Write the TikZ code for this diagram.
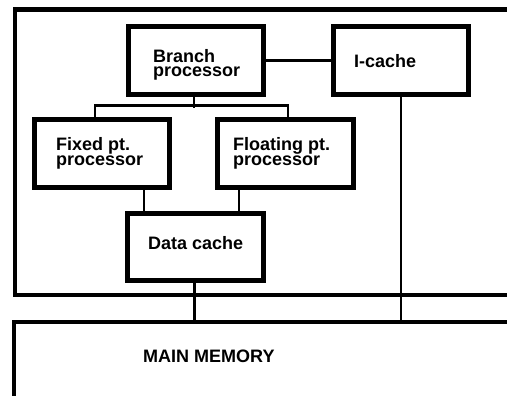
\documentclass[tikz,border=0pt]{standalone}
\usepackage{fontspec}
\setmainfont{Liberation Sans}
\begin{document}
\begin{tikzpicture}[x=1pt,y=-1pt,
  unit/.style={draw,line width=5pt,inner sep=0pt,minimum width=135pt,minimum height=68pt},
  wire/.style={line width=2.3pt},
  frame/.style={line width=4.6pt,line join=miter},
  lbl/.style={anchor=base west,inner sep=0pt,align=left,font=\fontsize{18}{14.3}\selectfont\bfseries}]
\useasboundingbox (0,0) rectangle (507,396);
\clip (0,0) rectangle (507,396);
\fill[white] (0,0) rectangle (507,396);
% chip frame and memory frame
\draw[frame] (515,9.5) -- (15,9.5) -- (15,295) -- (515,295);
\draw[frame] (515,322) -- (14,322) -- (14,405);
\coordinate (memtop) at (0,320);
% units
\node[unit] (branch) at (196,60.5) {};
\node[unit] (icache) at (401,61) {};
\node[unit] (fixed) at (102,153.5) {};
\node[unit,minimum width=136pt] (float) at (285.5,153.5) {};
\node[unit,minimum width=136pt,minimum height=67pt] (dcache) at (195.5,247) {};
% labels (base anchor = baseline of last line)
\node[lbl] (tbranch) at (153,76.8) {Branch\\processor};
\node[lbl] (ticache) at (354,68) {I-cache};
\node[lbl] (tfixed) at (56,165.3) {Fixed pt.\\processor};
\node[lbl] (tfloat) at (233,165.3) {Floating pt.\\processor};
\node[lbl] (tdcache) at (148,250) {Data cache};
\node[lbl] (tmem) at (143,362) {MAIN MEMORY};
% connectors
\draw[wire] (branch.east) -- (branch.east -| icache.west);
\draw[wire] ([xshift=-2pt]branch.south) -- ++(0,11.5);
\draw[wire] ([xshift=-7pt]fixed.north) -- ++(0,-11.5) -| ([xshift=2.5pt]float.north);
\draw[wire] ([xshift=42pt]fixed.south) -- ([xshift=42pt]fixed.south |- dcache.north);
\draw[wire] ([xshift=-46.5pt]float.south) -- ([xshift=-46.5pt]float.south |- dcache.north);
\draw[wire] ([xshift=-1pt]dcache.south) -- ([xshift=-1pt]dcache.south |- memtop);
\draw[wire] (icache.south) -- (icache.south |- memtop);
\end{tikzpicture}
\end{document}
